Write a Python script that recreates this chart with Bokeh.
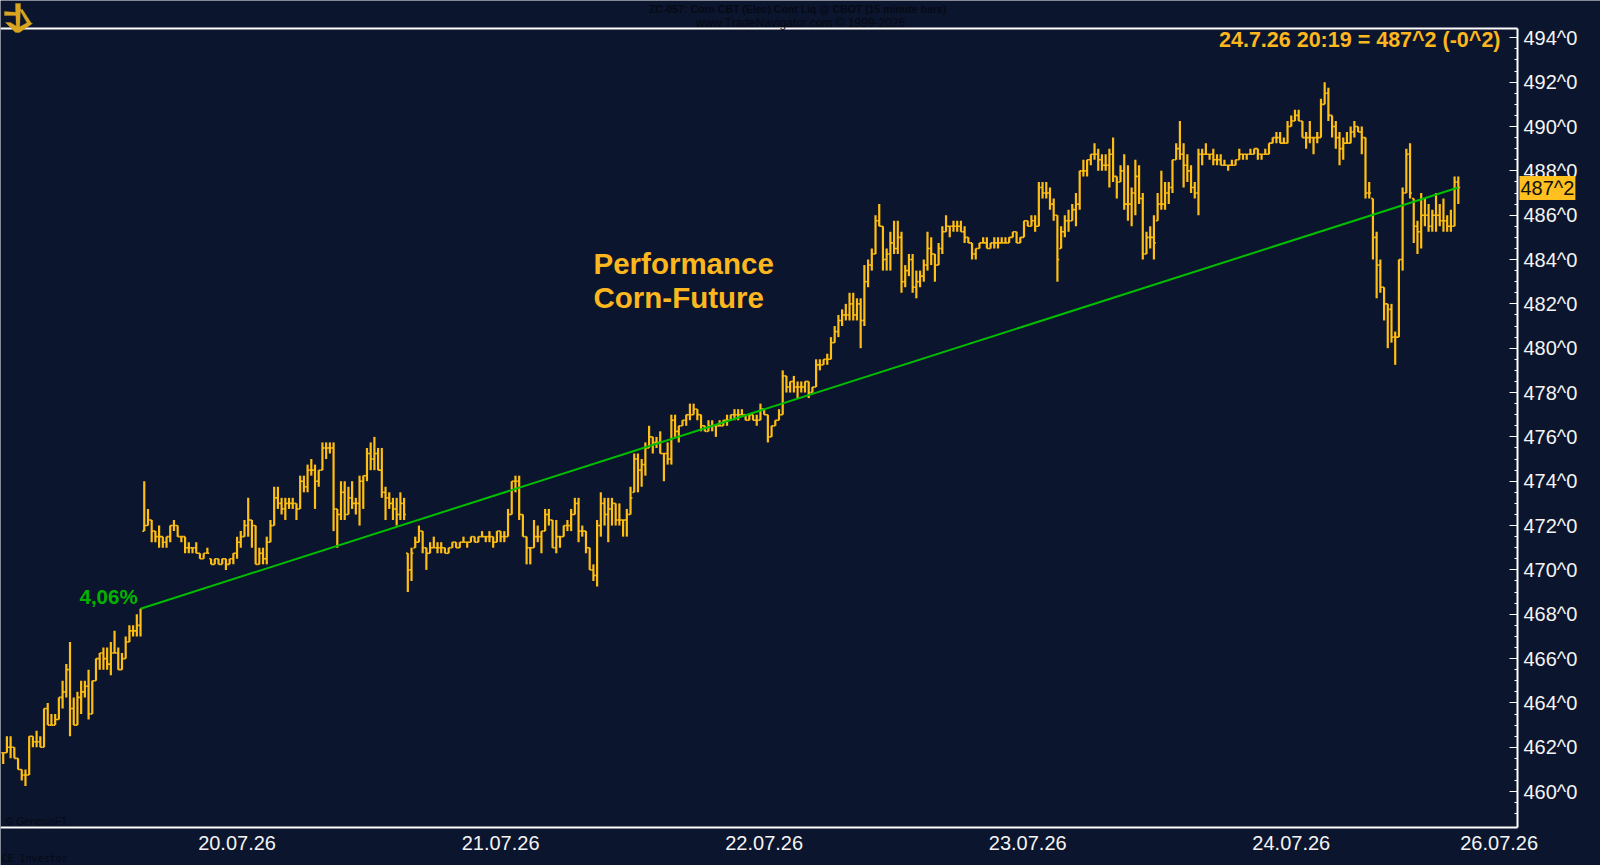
from bokeh.plotting import figure
from bokeh.models import (ColumnDataSource, Label, LinearAxis, FixedTicker, Range1d, PolyAnnotation)
from bokeh.embed import file_html
from bokeh.resources import INLINE

highs = [
461.75,462.5,462.5,462,461.5,461,461,462.5,462.5,462.75,
462.5,463.75,464,463.5,463.5,464.25,465,465.75,466.75,464.25,
464.5,465,465,465.5,465,466,466.25,466.5,466.5,466.75,
467.25,466.5,466.25,467,467.5,467.5,468,468.25,474,472.75,
472.25,471.75,472,471.5,471.5,472,472.25,472,471.5,471.5,
471.25,471,471.25,470.75,470.75,471,470.5,470.5,470.5,470.5,
470.5,470.5,470.75,471.5,471.75,472.25,473.25,472.25,472,471,
471,471.5,472.25,473.75,473.75,473.25,473.25,473.25,473.25,473,
474.25,474.25,474.75,475,474.75,474.5,475.75,475.75,475.75,475.75,
472.75,474,474,473.75,474,473.25,474.25,474.25,475.5,475.75,
476,475.5,475.5,473.75,473.5,473.25,473.25,473.5,473.25,470.75,
471,471.5,472,471.75,471,471.25,471.5,471.25,471.25,471,
471,471.25,471.25,471.25,471.5,471.25,471.5,471.5,471.5,471.75,
471.5,471.75,471.5,471.75,471.75,471.75,472.75,474,474.25,474.25,
472.5,471.5,471,472.25,472,471.75,472.75,472.75,472.25,472.25,
471.5,472,472.25,472.75,473.25,473.25,472,471.75,471,470.25,
472.25,473.5,473.25,473.25,473.25,473,473,472.25,472.75,473.75,
475.25,475.25,475,475.75,476.5,476,476,476.25,475.25,475.75,
477,477,476.5,476.75,477,477.5,477.5,477.25,477,476.5,
476.75,476.75,476.5,476.75,476.75,477,477,477.25,477.25,477.25,
477,477,477,477,477.5,477.25,477,476.5,476.75,477.25,
479,478.75,478.5,478.75,478.5,478.5,478.5,478.5,478.25,479.5,
479.5,479.5,479.75,480.5,481,481.5,481.75,482,482.5,482.5,
482.25,482.25,483.75,484,484.5,486,486.5,485.5,484.5,485.25,
485.75,485.75,485.25,483.75,484.25,484.25,483.5,483.5,484,485.25,
485,484.25,484.75,485.5,486,485.5,485.75,485.75,485.75,485.5,
485,484.75,484.5,484.75,485,485,484.75,485,485,485,
485,485,485.25,485.25,485,485.75,485.75,486,486,487.5,
487.5,487.5,487.25,486.75,486,485.5,486,486.25,486.5,487,
488,488.5,488.5,488.75,489.25,489,488.75,488.75,489,489.5,
487.75,488.25,488.75,488.25,487.25,488.5,488.25,487,485.25,485.5,
486,487,488,487.5,487.5,488.5,489.25,490.25,489.25,488.75,
488.25,487.5,489,489,489.25,488.75,489,488.75,488.75,488.5,
488.25,488.5,488.5,489,488.75,488.75,489,489,489,488.75,
489,489.25,489.5,489.75,489.75,489.5,490.25,490.5,490.75,490.75,
490.25,489.75,490.25,489.5,489.75,491.25,492,491.75,490.5,490.25,
489.75,489.5,489.75,490,490.25,490,490,489.5,487.5,486.75,
485.25,484,482.75,482,482,480.75,484,487.25,489,489.25,
486.75,485.75,487,486.75,486.5,486.25,487,486.5,486.75,486,486.25,487.75,487.75]

lows = [
461.25,461.75,461.5,461.5,461,460.5,460.25,460.75,462,462,
462,462,463,463,463,463.25,463.75,464.25,462.5,463,
463,463.5,464.25,463.25,463.5,465,465.5,465.5,465.5,465.25,
466.25,465.5,465.5,466,466.75,467,467,467,471.75,472,
471.25,471.25,471,471,471,471.25,471.75,471.5,471.25,470.75,
470.75,470.75,470.75,470.5,470.5,470.75,470.25,470.25,470.25,470.25,
470,470.25,470.25,470.5,471,471.5,471.5,471,470.25,470.25,
470.25,470.25,471.25,472,472.75,472.5,472.25,472.75,472.75,472.25,
472.75,473.5,473.5,474.25,472.75,473.75,474.5,475,475.25,471.75,
471,472.25,472.25,472.5,472.75,472.5,472,472.75,474,474.5,
474.5,474.5,473.25,472.25,472.75,472.25,472,472.25,472.25,469,
469.5,471,471.25,470.75,470,470.75,471,470.75,470.75,470.75,
470.75,471,471,471,471.25,471,471.25,471.25,471.25,471.5,
471.25,471.25,471,471.25,471.25,471.25,471.5,472.5,473.5,472.25,
471.5,470.25,470.25,471,471.25,470.75,471.75,472,471,470.75,
471,471.5,471.75,471.75,472.5,471.25,471.5,470.75,470,469.5,
469.25,471.5,472,471.25,472,472,472,471.5,471.5,472.5,
473.5,473.5,473.75,474.25,475.5,475.25,475.5,475.25,474,474.75,
474.75,476,475.75,476.5,476.5,476.75,477,476.75,476.25,476.25,
476.25,476.25,476,476.5,476.5,476.5,476.75,476.75,476.75,477,
476.75,476.75,476.75,476.5,476.75,477,475.75,476,476.5,476.75,
477,478,478,478,477.75,478,478,477.75,478,478.25,
479,479.25,479.25,479.5,480.25,480.5,481,481.25,481.25,481.25,
481.25,480,481,482.75,483.5,484.25,485.5,483.5,483.5,483.5,
484.25,484.25,482.5,482.75,483.25,482.5,482.25,482.75,483,483.5,
483.75,483,483.75,484.25,485.25,485,485.25,485.25,485.25,484.75,
484.75,484,484,484.5,484.75,484.5,484.5,484.5,484.5,484.75,
484.75,484.75,485,484.75,484.75,485,485.5,485.5,485.25,485.5,
486.75,486.75,486.25,485.75,483,484.5,485,485.25,485.75,485.5,
486.25,487.75,487.75,488.25,488.5,488,488,488,487.25,487.5,
486.75,487.5,486.25,485.75,485.5,486,486.5,484,484.25,484.5,
484,485.75,486.25,486.25,486.5,487,488.5,488.5,487.25,487.5,
487,486.75,486,488.25,488.75,488.5,488.25,488.25,488.25,488.25,
488,488.25,488.25,488.5,488.5,488.5,488.75,488.75,488.5,488.5,
488.75,488.75,489.25,489.25,489.25,489.25,489.25,490,490.25,490.25,
489.5,489,489.25,488.75,489.25,489.5,491,490.25,489.5,489,
488.25,488.5,489.25,489.25,489.5,489.75,488.75,486.75,486.75,484,
482.25,482.5,481.25,480,480.25,479.25,480.5,483.5,487,486.75,
484.75,484.25,484.5,485.5,485.25,485.25,485.25,485.5,485.25,485.25,485.25,485.5,486.5]

closes = [
461.75,462,462,461.5,461,460.75,460.75,462.5,462.25,462.25,
462,463.75,463,463,463.25,464.25,464.5,465.5,463.75,463,
464.25,464.5,464.75,463.5,465,466,466.25,466,465.75,466.25,
466.25,465.5,466,466.75,467.25,467.25,467.5,468.25,472,472.25,
471.75,471.5,471.5,471.25,471.5,472,472,471.5,471.5,471,
471,471,470.75,470.5,470.75,470.75,470.25,470.5,470.25,470.5,
470.25,470.5,470.75,471.25,471.5,472,472.25,472,470.25,470.75,
470.5,471.25,472,473.25,473,472.75,473,473,473,472.75,
474,473.75,474.5,474.5,474,474.5,475.5,475.5,475.5,472.75,
472.5,473.5,472.5,473.25,473,473,474,474.25,475.25,475,
475.25,474.5,473.5,473.25,473,472.75,472.5,473,472.5,470,
470.75,471.25,471.75,471,470.75,471,471,471,471,470.75,
471,471.25,471,471.25,471.25,471.25,471.5,471.25,471.5,471.5,
471.5,471.5,471.25,471.75,471.5,471.5,472.5,474,474,472.5,
471.5,471,471,471.5,471.5,471.75,472.5,472.25,471,471.5,
471.5,472,472,472.5,473,471.75,471.75,471,470,469.75,
472,473,472.5,472.75,473,472.25,472.25,472.25,472.5,473.25,
475,474.5,474.75,475.5,476,475.75,475.75,475.25,475.25,475,
476.75,476.25,476.5,476.75,477,477,477.25,477,476.5,476.25,
476.5,476.5,476.5,476.5,476.75,476.75,477,477,477,477,
476.75,477,476.75,476.75,477.25,477,476,476.5,476.75,477,
478.75,478.25,478.5,478.25,478.25,478.25,478.5,478,478.25,479.25,
479.25,479.5,479.5,480.25,480.75,481.25,481.5,481.5,482,481.5,
482,481.25,483,483.75,484.25,485.75,485.5,484,484.25,484.75,
484.5,485,483,483.5,484,482.75,483,483.25,483.75,484.5,
484.25,483.75,484.5,485.25,485.5,485.5,485.5,485.5,485.25,485,
484.75,484.25,484.5,484.75,484.75,484.5,484.75,484.75,484.75,484.75,
484.75,485,485.25,484.75,485,485.75,485.5,485.75,485.5,487.25,
487,487,486.5,486,484,485.25,485.75,485.75,486.25,486.5,
488,488,488.5,488.75,488.75,488.5,488.25,488.25,488.75,487.75,
487.5,488,486.5,486.5,487,487.75,486.75,484.25,485,485,
484.75,486.5,486.5,487,487.25,488.5,489,488.75,488.25,488,
487.25,487,488.75,488.75,488.75,488.75,488.5,488.5,488.25,488.25,
488.25,488.25,488.5,488.75,488.75,488.75,488.75,489,488.75,488.75,
488.75,489.25,489.5,489.5,489.25,489.25,490,490.25,490.5,490.25,
489.5,489.5,489.5,489.5,489.5,491,491.5,490.5,490,489.5,
489,489.25,489.25,489.75,490,489.75,489.5,487,487,485,
483.75,482.75,482,481.75,480.5,480.5,484,487,488.75,487,
485.5,485.25,486,486,485.5,486,486,485.75,485.75,485.5,485.5,487.5,487.25]

assert len(highs) == len(lows) == len(closes)

price_ticks = [460, 462, 464, 466, 468, 470, 472, 474, 476, 478, 480, 482, 484, 486, 488, 490, 492, 494]
price_minor = [p / 2 for p in range(2 * 459, 2 * 494 + 1)]
price_labels = ["%d^0" % p for p in price_ticks]
date_bars = [63, 134, 205, 276, 347, 403]
date_labels = ["20.07.26", "21.07.26", "22.07.26", "23.07.26", "24.07.26", "26.07.26"]
trend_bars = [37, 392]
trend_prices = [468.25, 487.25]

BG = "#0B152D"
BAR = "#FFBE14"
ORANGE = "#FDB71E"
GREEN = "#00BE00"
DARK = "#060A16"
FONT = "Liberation Sans"

W, H, PXU, PXB = 1600, 865, 22.17, 3.712
x0 = -0.727
x1 = x0 + W / PXB
y1 = 480 + 347.7 / PXU
y0 = y1 - H / PXU
def dx(px): return x0 + px / PXB
def dy(py): return y1 - py / PXU
AX_R, AX_T, AX_B = 1517, 28, 827

p = figure(width=W, height=H, x_range=Range1d(x0, x1), y_range=Range1d(y0, y1),
           output_backend="svg", toolbar_location=None,
           x_axis_location="below", y_axis_location="right",
           background_fill_color=BG, border_fill_color=BG,
           min_border=0, margin=(0, 0, 0, 0))
p.outline_line_color = None
p.xgrid.visible = False
p.ygrid.visible = False

ya = p.yaxis[0]
ya.fixed_location = dx(AX_R)
ya.bounds = (dy(AX_B), dy(AX_T))
ya.ticker = FixedTicker(ticks=price_ticks, minor_ticks=price_minor)
ya.major_label_overrides = dict(zip(price_ticks, price_labels))
ya.major_label_text_font = FONT
ya.major_label_text_font_size = "20px"
ya.major_label_text_color = "#F4F4F4"
ya.major_label_standoff = 6
ya.axis_line_color = "white"
ya.axis_line_width = 2
ya.major_tick_line_color = "white"
ya.minor_tick_line_color = "white"
ya.major_tick_in = 8
ya.major_tick_out = 0
ya.minor_tick_in = 3
ya.minor_tick_out = 0

xa = p.xaxis[0]
xa.fixed_location = dy(AX_B)
xa.bounds = (x0, dx(AX_R))
xa.ticker = FixedTicker(ticks=date_bars)
xa.major_label_overrides = dict(zip(date_bars, date_labels))
xa.major_label_text_font = FONT
xa.major_label_text_font_size = "20px"
xa.major_label_text_color = "#F4F4F4"
xa.major_label_standoff = 2
xa.axis_line_color = "white"
xa.axis_line_width = 2
xa.major_tick_line_color = None
xa.minor_tick_line_color = None

top = LinearAxis(ticker=FixedTicker(ticks=[]), major_label_text_font_size="0px",
                 axis_line_color="white", axis_line_width=2, fixed_location=dy(AX_T),
                 bounds=(x0, dx(AX_R)),
                 major_tick_line_color=None, minor_tick_line_color=None)
p.add_layout(top, "above")

idx = list(range(len(highs)))
opens = [max(min(c, h), l) for c, h, l in zip([closes[0]] + closes[:-1], highs, lows)]
src = ColumnDataSource(dict(
    i=idx, h=highs, l=lows, c=closes, o=opens,
    il=[i - 0.5 for i in idx], ir=[i + 0.5 for i in idx]))
p.segment("i", "l", "i", "h", source=src, line_color=BAR, line_width=2.2)
p.segment("il", "o", "i", "o", source=src, line_color=BAR, line_width=1.6)
p.segment("i", "c", "ir", "c", source=src, line_color=BAR, line_width=1.6)

p.line(trend_bars, trend_prices, line_color=GREEN, line_width=2)

def label(text, px, py, size, color, bold=False, align="left", font=FONT, **kw):
    p.add_layout(Label(x=dx(px), y=dy(py), text=text, text_font=font,
                       text_font_size=size, text_color=color,
                       text_font_style="bold" if bold else "normal",
                       text_align=align, text_baseline="middle", **kw))

label("24.7.26 20:19 = 487^2 (-0^2)", 1500, 39, "21.5px", ORANGE, bold=True, align="right")
label("Performance", 593, 263, "29.5px", ORANGE, bold=True)
label("Corn-Future", 593, 297, "29.5px", ORANGE, bold=True)
label("4,06%", 79, 596, "20.5px", "#00B400", bold=True)
label("ZC-057:  Corn CBT (Elec) Cont Liq @ CBOT  (15 minute bars)", 800, 8, "10.5px", DARK, bold=True, align="center")
label("www.TradeNavigator.com \u00a9 1999-2026", 800, 22, "12px", DARK, align="center")
label("\u00a9 GenesisFT", 5, 820, "10.5px", DARK)
label("CE_Investor", 1, 858, "10px", DARK, font="DejaVu Sans Mono")
label("487^2", 1519, 187.5, "20px", "#101010", background_fill_color="#FFC020",
      padding=1)

GOLD = "#D9A520"
for shape in (
    [(15, 3), (20, 3), (20, 8), (19, 31), (16, 31), (15, 8)],
    [(4, 11), (18, 12), (18, 15), (4, 15)],
    [(19, 9), (22, 9), (31, 23), (28, 25)],
    [(5, 22), (10, 22), (18, 27), (27, 22), (32, 23), (19, 32), (15, 32)],
):
    p.add_layout(PolyAnnotation(xs=[dx(a) for a, b in shape], ys=[dy(b) for a, b in shape],
                                fill_color=GOLD, fill_alpha=1, line_color=GOLD, line_width=1))

open("out.html", "w").write(file_html(p, INLINE))
